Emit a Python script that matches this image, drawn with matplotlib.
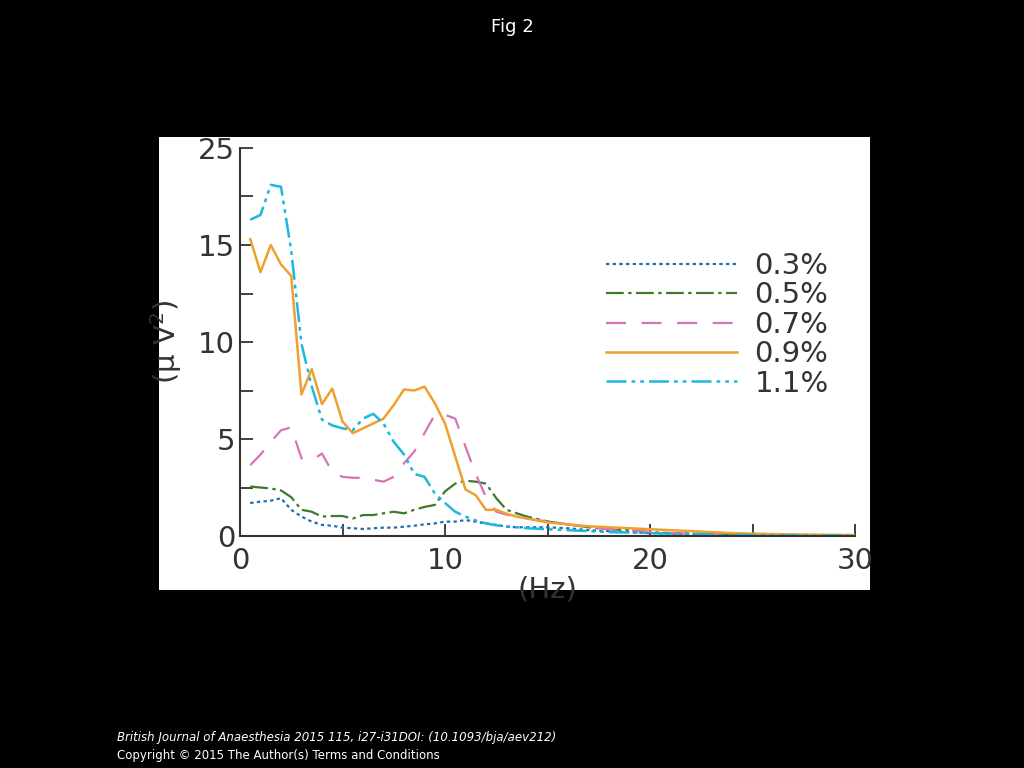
import matplotlib
matplotlib.use("Agg")
import matplotlib.pyplot as plt
import numpy as np

freq = [0.5,1,1.5,2,2.5,3,3.5,4,4.5,5,5.5,6,6.5,7,7.5,8,8.5,9,9.5,10,10.5,11,11.5,12,12.5,13,13.5,
        14,15,16,17,18,19,20,21,22,23,24,25,26,27,28,29,30]
s03 = [1.7,1.77,1.82,1.95,1.35,1.0,0.74,0.57,0.53,0.43,0.4,0.36,0.4,0.43,0.43,0.48,0.53,0.6,0.65,0.74,0.74,0.82,0.74,0.65,0.57,0.48,0.45,
       0.45,0.45,0.4,0.3,0.25,0.2,0.15,0.12,0.1,0.08,0.06,0.05,0.04,0.03,0.03,0.02,0.02]
s05 = [2.55,2.5,2.45,2.35,2.0,1.35,1.25,1.0,1.03,1.03,0.9,1.08,1.08,1.17,1.25,1.17,1.35,1.5,1.6,2.3,2.7,2.85,2.8,2.7,1.95,1.35,1.17,
       1.0,0.75,0.6,0.45,0.35,0.3,0.2,0.15,0.12,0.1,0.08,0.06,0.05,0.04,0.03,0.03,0.02]
s07 = [3.65,4.2,4.85,5.45,5.6,4.0,3.9,4.25,3.3,3.05,3.0,3.0,2.9,2.8,3.05,3.75,4.35,5.3,6.25,6.25,6.05,4.6,3.2,2.0,1.25,1.1,1.0,
       0.9,0.75,0.6,0.45,0.35,0.3,0.2,0.15,0.12,0.1,0.08,0.06,0.05,0.04,0.03,0.03,0.02]
s09 = [15.3,13.6,15.0,14.0,13.4,7.3,8.6,6.8,7.6,5.9,5.3,5.55,5.8,6.05,6.75,7.55,7.5,7.7,6.85,5.8,4.1,2.4,2.1,1.35,1.35,1.15,1.0,
       0.9,0.7,0.6,0.5,0.45,0.4,0.35,0.3,0.25,0.2,0.15,0.12,0.1,0.08,0.07,0.06,0.05]
s11 = [16.3,16.55,18.1,18.0,14.7,9.9,7.7,6.0,5.7,5.55,5.45,6.05,6.3,5.8,4.85,4.2,3.2,3.05,2.2,1.7,1.25,1.0,0.8,0.65,0.55,0.5,0.45,
       0.4,0.35,0.3,0.25,0.2,0.18,0.15,0.12,0.1,0.08,0.06,0.05,0.04,0.03,0.03,0.02,0.02]
labels = ["0.3%","0.5%","0.7%","0.9%","1.1%"]
yticks = [0,5,10,15,20]
yticklabels = ["0","5","10","15","25"]
xticks = [0,10,20,30]

fig = plt.figure(figsize=(10.24,7.68), dpi=100, facecolor="black")
bg = fig.add_axes([159/1024, 1-590/768, 711/1024, 453/768], zorder=-1)
bg.set_facecolor("white"); bg.set_xticks([]); bg.set_yticks([])
for sp in bg.spines.values():
    sp.set_visible(False)
ax = fig.add_axes([240/1024, 1-536/768, 615/1024, 388/768])
ax.set_facecolor("none")
styles = [
    dict(color="#1f6fb0", linestyle=(0,(1.5,1.5)), lw=1.6),
    dict(color="#3d7a2a", linestyle=(0,(8,2,1.5,2)), lw=1.6),
    dict(color="#d872b8", linestyle=(0,(9,7)), lw=1.6),
    dict(color="#f0a030", linestyle="-", lw=1.8),
    dict(color="#1ab8e0", linestyle=(0,(8,2,1.5,2,1.5,2)), lw=1.8),
]
for s, lab, st in zip([s03,s05,s07,s09,s11], labels, styles):
    ax.plot(freq, s, label=lab, **st)
ax.set_xlim(0,30); ax.set_ylim(0,20)
for sp in ["top","right"]:
    ax.spines[sp].set_visible(False)
for sp in ["left","bottom"]:
    ax.spines[sp].set_color("#333333"); ax.spines[sp].set_linewidth(1.5)
ax.set_xticks(xticks); ax.set_yticks(yticks); ax.set_yticklabels(yticklabels)
ax.set_xticks([5,15,25], minor=True); ax.set_yticks([2.5,7.5,12.5,17.5], minor=True)
ax.tick_params(which="both", direction="in", length=9, width=1.3, labelsize=21, colors="#333333")
ax.tick_params(axis="x", pad=8)
ax.set_xlabel("(Hz)", fontsize=21, color="#333333", labelpad=0)
ax.set_ylabel("(μ V$^2$)", fontsize=21, color="#333333", labelpad=10)
leg = ax.legend(loc="upper right", bbox_to_anchor=(1.0, 0.8), frameon=False, fontsize=21,
                handlelength=4.5, labelspacing=0.05, handletextpad=0.6)
for t in leg.get_texts():
    t.set_color("#333333")
fig.text(0.5, 1-27/768, "Fig 2", color="white", ha="center", va="center", fontsize=13)
fig.text(117/1024, 1-737/768, "British Journal of Anaesthesia 2015 115, i27-i31DOI: (10.1093/bja/aev212)",
         color="white", fontsize=8.5, style="italic", va="center")
fig.text(117/1024, 1-756/768, "Copyright © 2015 The Author(s) Terms and Conditions", color="white", fontsize=8.5, va="center")
fig.savefig("out.png", dpi=100, facecolor="black")
